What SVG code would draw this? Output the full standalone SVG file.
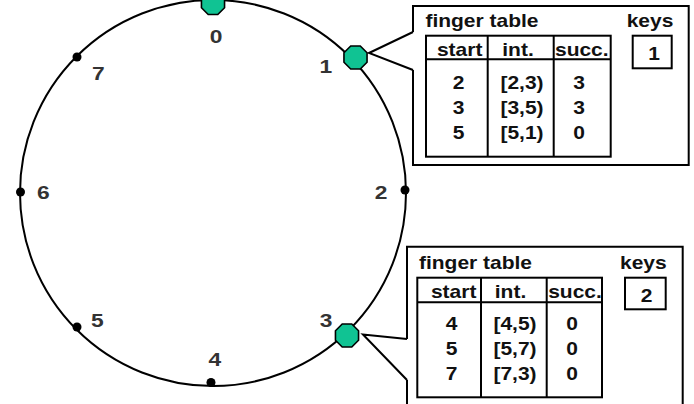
<svg xmlns="http://www.w3.org/2000/svg" xmlns:xlink="http://www.w3.org/1999/xlink" width="694" height="404" viewBox="0 0 694 404">
<style>
text{font-family:"Liberation Sans",Arial,sans-serif;font-weight:bold;text-anchor:middle;transform-box:fill-box;transform-origin:center;transform:scaleX(1.2)}
.lbl{font-size:19px;fill:#333}
.tx{font-size:17.5px;fill:#111}
.ln{fill:none;stroke:#000;stroke-width:2}
.oct{fill:#10c393;stroke:#000;stroke-width:1.6}
.dot{fill:#000}
</style>
<defs>
<polygon id="oct" points="11.55,4.78 4.78,11.55 -4.78,11.55 -11.55,4.78 -11.55,-4.78 -4.78,-11.55 4.78,-11.55 11.55,-4.78"/>
</defs>
<rect width="694" height="404" fill="#fff"/>
<g id="connectors">
<circle class="ln" cx="213" cy="193" r="193"/>
<path class="ln" d="M413,32 L369,53 L413,70"/>
<path class="ln" d="M407,339 L363,334.5 L407,380"/>
</g>
<g id="node0"><use xlink:href="#oct" class="oct" x="213" y="3"/><text class="lbl" x="216" y="43">0</text></g>
<g id="node1"><use xlink:href="#oct" class="oct" x="355.5" y="57.5"/><text class="lbl" x="326" y="73">1</text></g>
<g id="node2"><circle class="dot" cx="405" cy="190" r="4.5"/><text class="lbl" x="381" y="199">2</text></g>
<g id="node3"><use xlink:href="#oct" class="oct" x="347" y="335.5"/><text class="lbl" x="326" y="327">3</text></g>
<g id="node4"><circle class="dot" cx="211" cy="382.5" r="4.5"/><text class="lbl" x="215" y="366">4</text></g>
<g id="node5"><circle class="dot" cx="77" cy="327" r="4.5"/><text class="lbl" x="97.5" y="327">5</text></g>
<g id="node6"><circle class="dot" cx="20.5" cy="192" r="4.5"/><text class="lbl" x="43.3" y="199.5">6</text></g>
<g id="node7"><circle class="dot" cx="77" cy="57" r="4.5"/><text class="lbl" x="98.3" y="80">7</text></g>
<g id="table1">
<path class="ln" d="M413,32 L413,6 L688.7,6 L688.7,165 L413,165 L413,70"/>
<text class="tx" x="482" y="27">finger table</text>
<text class="tx" x="650" y="27">keys</text>
<rect class="ln" x="426" y="35.7" width="184.7" height="121"/>
<path class="ln" d="M426,59.3 H610.7 M487.7,35.7 V156.7 M553.7,35.7 V156.7"/>
<text class="tx" x="459.7" y="56">start</text>
<text class="tx" x="518" y="56">int.</text>
<text class="tx" x="581.8" y="56">succ.</text>
<text class="tx" x="458.5" y="89">2</text><text class="tx" x="522" y="89">[2,3)</text><text class="tx" x="579" y="89">3</text>
<text class="tx" x="458.5" y="114">3</text><text class="tx" x="522" y="114">[3,5)</text><text class="tx" x="579" y="114">3</text>
<text class="tx" x="458.5" y="139">5</text><text class="tx" x="522" y="139">[5,1)</text><text class="tx" x="579" y="139">0</text>
<rect class="ln" x="632.7" y="35.7" width="39" height="32.6"/>
<text class="tx" x="654" y="60">1</text>
</g>
<g id="table2">
<path class="ln" d="M407,339 L407,246.7 L682.7,246.7 L682.7,410 M407,380 L407,410"/>
<text class="tx" x="475.5" y="269.3">finger table</text>
<text class="tx" x="643.3" y="269">keys</text>
<rect class="ln" x="417.3" y="277.7" width="184.7" height="119.6"/>
<path class="ln" d="M417.3,302.3 H602 M481,277.7 V397.3 M546.7,277.7 V397.3"/>
<text class="tx" x="453.7" y="298.3">start</text>
<text class="tx" x="510.5" y="298.3">int.</text>
<text class="tx" x="575" y="298.3">succ.</text>
<text class="tx" x="451.7" y="330">4</text><text class="tx" x="515" y="330">[4,5)</text><text class="tx" x="572" y="330">0</text>
<text class="tx" x="451.7" y="355">5</text><text class="tx" x="515" y="355">[5,7)</text><text class="tx" x="572" y="355">0</text>
<text class="tx" x="451.7" y="380">7</text><text class="tx" x="515" y="380">[7,3)</text><text class="tx" x="572" y="380">0</text>
<rect class="ln" x="625" y="277.7" width="40.7" height="31.6"/>
<text class="tx" x="646.7" y="301.7">2</text>
</g>
</svg>
